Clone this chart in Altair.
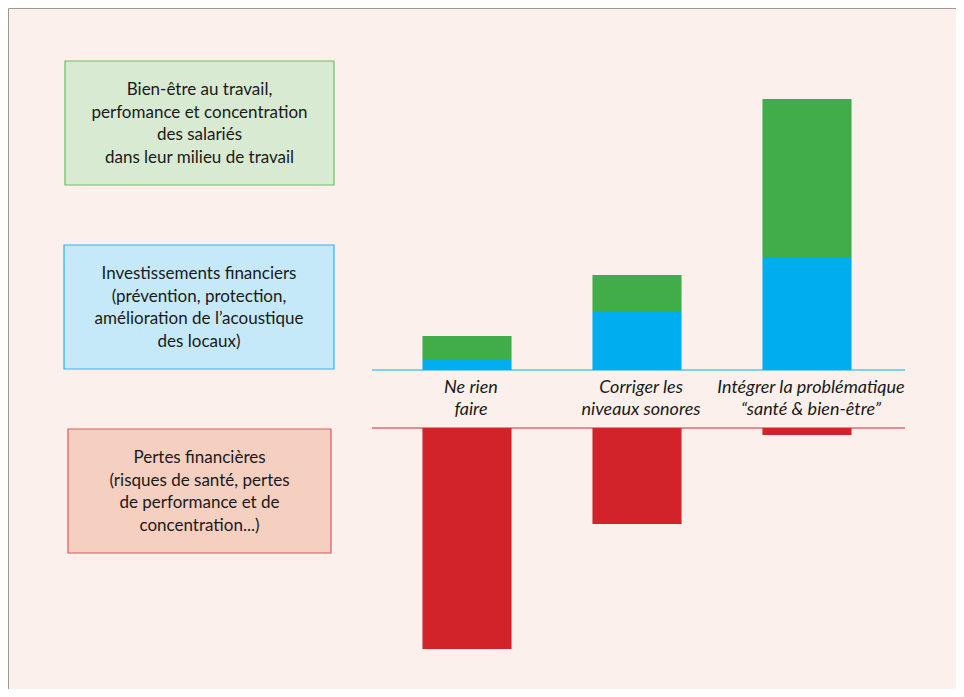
import altair as alt
import pandas as pd

# ---- data ----
categories = ["Ne rien faire", "Corriger les niveaux sonores", "Intégrer la problématique santé"]
category_labels = ["Ne rien\nfaire", "Corriger les\nniveaux sonores",
                   "Intégrer la problématique\n“santé & bien-être”"]
investissements = [11, 59, 113]   # blue, above baseline
bien_etre = [23, 36, 158]         # green, stacked on blue
pertes = [221, 96, 7]             # red, below lower baseline

legend_green = "Bien-être au travail,\nperfomance et concentration\ndes salariés\ndans leur milieu de travail"
legend_blue = "Investissements financiers\n(prévention, protection,\namélioration de l’acoustique\ndes locaux)"
legend_red = "Pertes financières\n(risques de santé, pertes\nde performance et de\nconcentration...)"

FONT = "Lato"
BG = "#fbf0eb"
GREEN, BLUE, RED = "#41ad49", "#00aeef", "#d2232a"

top_rows = []
for i, c in enumerate(categories):
    top_rows.append({"cat": c, "serie": "Investissements", "value": investissements[i], "ord": 0})
    top_rows.append({"cat": c, "serie": "Bien-être", "value": bien_etre[i], "ord": 1})
top_df = pd.DataFrame(top_rows)
red_df = pd.DataFrame({"cat": categories, "value": pertes})
lab_df = pd.DataFrame({"cat": categories, "label": category_labels})

xscale = alt.Scale(domain=categories, range=[374, 884], paddingInner=0.476, paddingOuter=0.238)
xenc = alt.X("cat:N", scale=xscale, axis=None, sort=categories)

top = alt.Chart(top_df).mark_bar().encode(
    x=xenc,
    y=alt.Y("value:Q", stack="zero", scale=alt.Scale(domain=[0, 362], range=[362, 0]), axis=None),
    color=alt.Color("serie:N", scale=alt.Scale(domain=["Investissements", "Bien-être"], range=[BLUE, GREEN]), legend=None),
    order=alt.Order("ord:Q"),
)

bottom = alt.Chart(red_df).mark_bar(color=RED).encode(
    x=xenc,
    y=alt.Y("value:Q", scale=alt.Scale(domain=[0, 261], range=[420, 681]), axis=None),
)

labels = alt.Chart(lab_df).mark_text(
    font=FONT, fontSize=18, fontStyle="italic", lineBreak="\n", lineHeight=22,
    baseline="middle", align="center", color="#1a1a1a", dx=4,
).encode(x=xenc, y=alt.value(380), text="label:N")

one = pd.DataFrame({"k": [0]})
rule_blue = alt.Chart(one).mark_rule(color="#5cc3ef", strokeWidth=1.5).encode(
    x=alt.value(364), x2=alt.value(897), y=alt.value(362))
rule_red = alt.Chart(one).mark_rule(color="#d9262e", strokeWidth=1.2).encode(
    x=alt.value(364), x2=alt.value(897), y=alt.value(420))


def box(text, x1, x2, y1, y2, fill, stroke):
    d = pd.DataFrame({"t": [text]})
    r = alt.Chart(d).mark_rect(fill=fill, stroke=stroke, strokeWidth=1.2).encode(
        x=alt.value(x1), x2=alt.value(x2), y=alt.value(y1), y2=alt.value(y2))
    lh = 22.5
    t = alt.Chart(d).mark_text(
        font=FONT, fontSize=17, lineBreak="\n", lineHeight=lh,
        baseline="middle", align="center", color="#1a1a1a",
    ).encode(x=alt.value((x1 + x2) / 2), y=alt.value((y1 + y2) / 2 + 1 - 1.5 * lh), text="t:N")
    return r + t


b1 = box(legend_green, 57, 326, 53, 177, "#d9ead3", "#6abf69")
b2 = box(legend_blue, 56, 326, 237, 361, "#c6e9f9", "#2ab5ef")
b3 = box(legend_red, 60, 323, 421, 545, "#f5cfc0", "#e0575f")

chart = alt.layer(
    b1, b2, b3, rule_blue, rule_red, top, bottom, labels
).resolve_scale(y="independent").properties(
    width=948, height=681, background=BG,
    autosize=alt.AutoSizeParams(type="none"), padding=0,
).configure_view(stroke="#9a9a9a", strokeWidth=1, fill=BG)

chart.save("out.html", embed_options={"renderer": "svg", "actions": False})
